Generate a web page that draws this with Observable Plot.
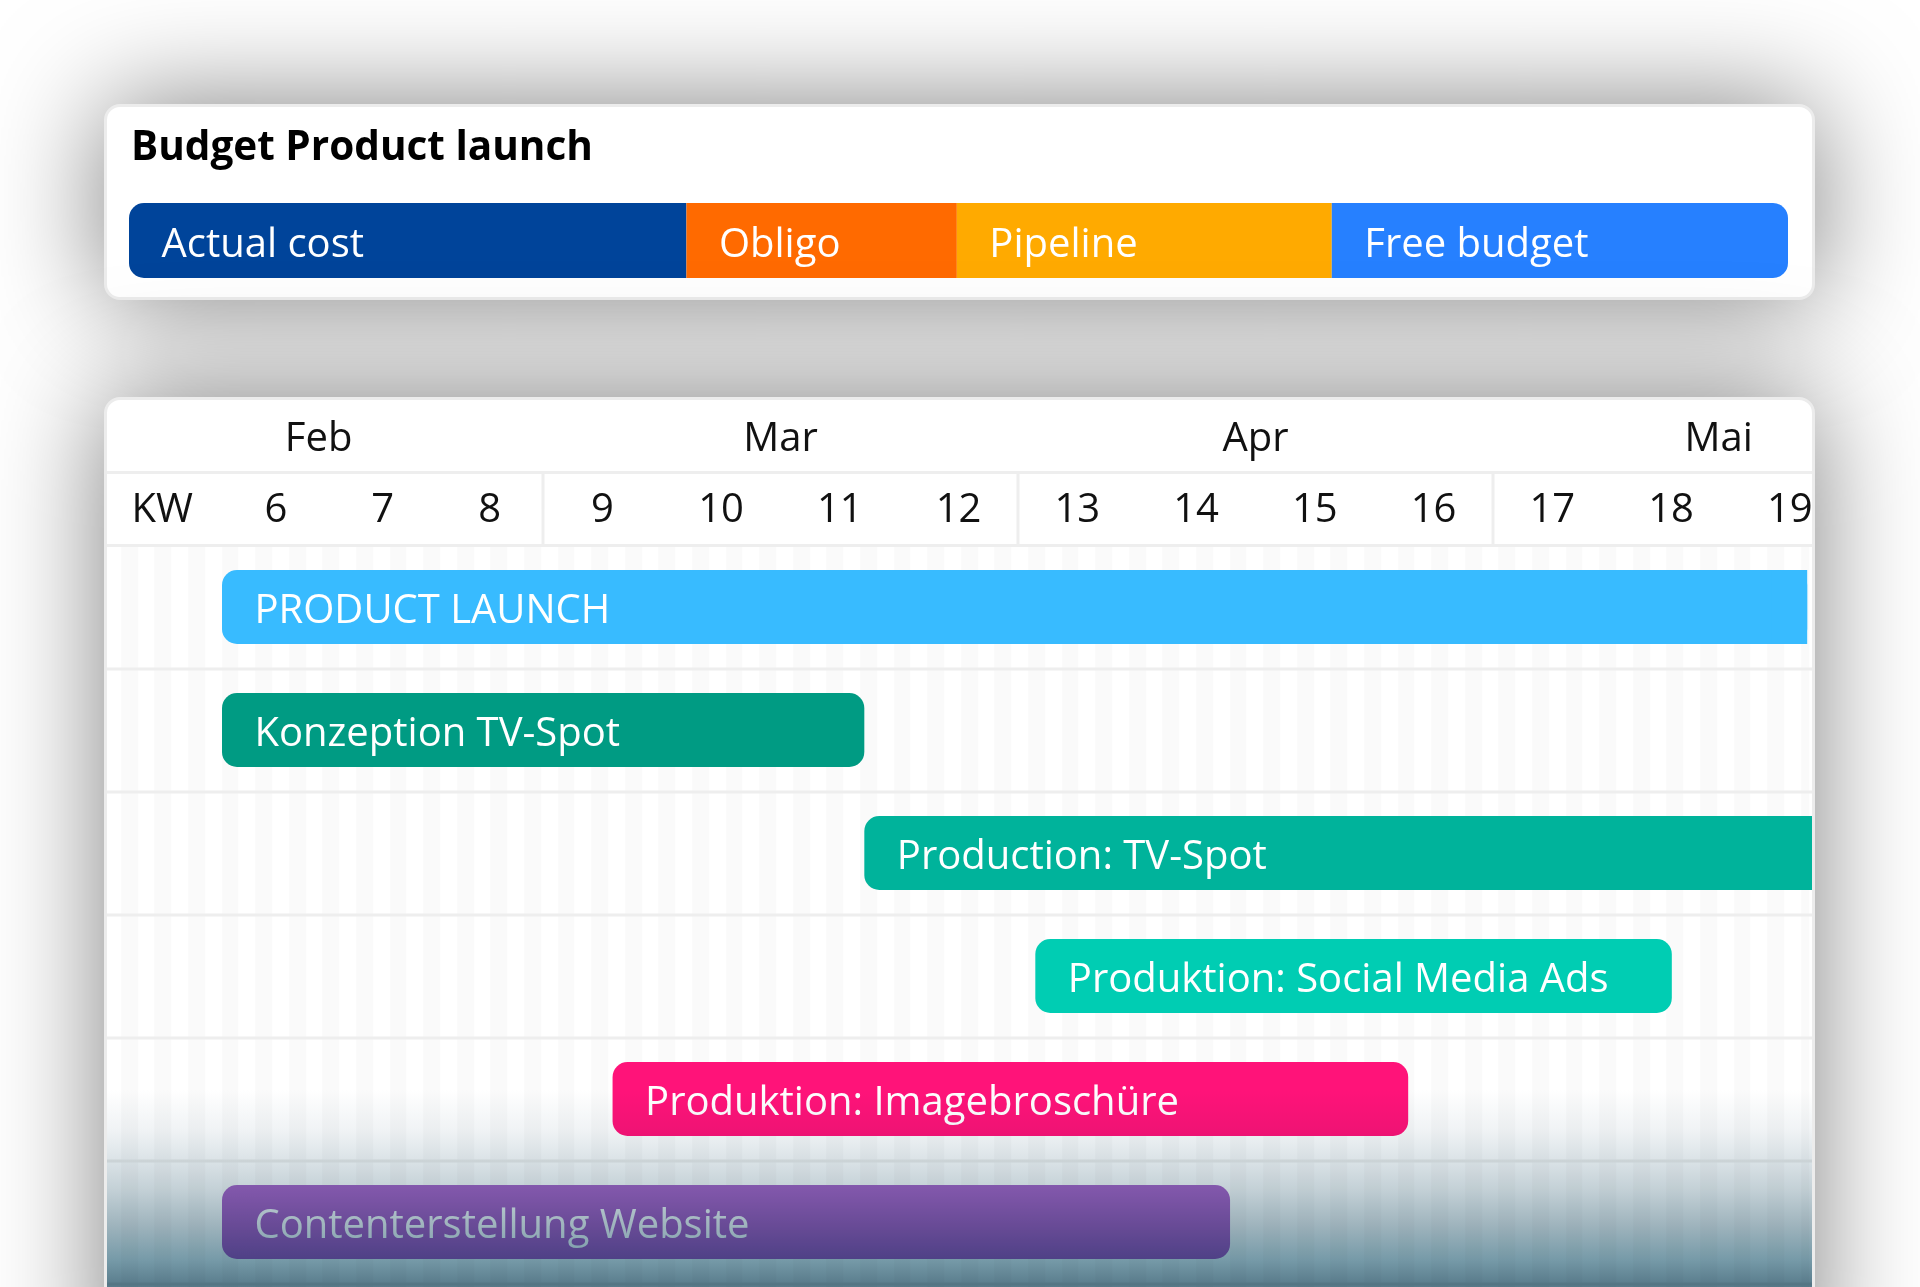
<!DOCTYPE html>
<html><head><meta charset="utf-8">
<script src="https://cdn.jsdelivr.net/npm/d3@7"></script>
<script src="https://cdn.jsdelivr.net/npm/@observablehq/plot@0.6"></script>
<style>
html,body{margin:0;padding:0;}
body{width:1920px;height:1287px;overflow:hidden;background:#fff;font-family:"Open Sans",sans-serif;position:relative;}
.card{position:absolute;box-sizing:border-box;background:#fff;border:3px solid #ececec;border-radius:16px;box-shadow:0 0 114px rgba(0,0,0,0.5);}
#budgetCard{left:104px;top:104px;width:1711px;height:196px;}
#title{position:absolute;left:24px;top:17px;font-size:40.5px;font-weight:700;line-height:42px;color:#000;white-space:nowrap;}
#budgetBar{position:absolute;left:22px;top:96px;width:1659px;height:75px;border-radius:15px;overflow:hidden;}
#ganttCard{left:104px;top:397px;width:1711px;height:1000px;overflow:hidden;}
.layer{position:absolute;left:0;}
#monthRow{top:0;height:71px;}
#weekRow{top:74px;height:70px;}
#body{top:145px;height:742px;width:1705px;
 background:repeating-linear-gradient(90deg,#ffffff 0px,#ffffff 16.8px,#fafafa 16.8px,#fafafa 33.6px);
 background-position:-2.8px 0;}
.hline{position:absolute;left:0;width:1705px;height:3px;background:#eeeeee;}
#overlay{position:absolute;left:0;top:690px;width:1705px;height:310px;mix-blend-mode:multiply;pointer-events:none;
 background:linear-gradient(to bottom,#ffffff 0px,#f0f3f5 40px,#dbe3e7 70px,#c3d0d6 100px,#9fb4bd 135px,#769aa8 170px,#577a8a 197px,#557888 310px);}
svg{display:block;}
</style>
</head><body>
<div class="card" id="budgetCard">
  <div id="title">Budget Product launch</div>
  <div id="budgetBar"></div>
</div>
<div class="card" id="ganttCard">
  <div class="layer" id="body"></div>
  <div class="layer" id="monthRow"></div>
  <div class="hline" style="top:71px"></div>
  <div class="layer" id="weekRow"></div>
  <div class="hline" style="top:144px"></div>
  <div id="overlay"></div>
</div>
<script>
// ---- Budget data ----
const budgetCategories = ["Actual cost", "Obligo", "Pipeline", "Free budget"];
const budgetValues = [33.6, 16.3, 22.6, 27.5];
const budgetColors = ["#00449A", "#FF6A00", "#FFAA00", "#2680FF"];

// ---- Calendar data (calendar weeks, KW) ----
const months = ["Feb", "Mar", "Apr", "Mai"];
const monthCenters = [6.4, 10.5, 14.5, 18.4];
const monthBoundaries = [8.5, 12.5, 16.5];
const weeks = [6, 7, 8, 9, 10, 11, 12, 13, 14, 15, 16, 17, 18, 19];

// ---- Tasks ----
const tasks = ["PRODUCT LAUNCH", "Konzeption TV-Spot", "Production: TV-Spot", "Produktion: Social Media Ads", "Produktion: Imagebroschüre", "Contenterstellung Website"];
const taskStart = [5.5, 5.5, 11.21, 12.65, 9.09, 5.5];
const taskEnd = [19.15, 11.21, 20.5, 18.01, 15.79, 14.29];
const taskColors = ["#38BBFF", "#009B83", "#00B39B", "#00CDB3", "#FF1379", "#A86ACB"];

const FONT = {fontFamily: "'Open Sans', sans-serif", fontSize: "40px", color: "#111", background: "transparent"};
const W = 1705;
const xScale = () => ({type: "linear", domain: [5.5, 8.5, 19.5], range: [115, 435.5, 1741.75], axis: null});

// Budget bar
const budget = budgetCategories.map((c, i) => ({category: c, value: budgetValues[i]}));
document.getElementById("budgetBar").append(Plot.plot({
  width: 1659, height: 75, margin: 0, style: FONT,
  x: {domain: [0, d3.sum(budgetValues)], range: [0, 1659], axis: null},
  color: {domain: budgetCategories, range: budgetColors},
  marks: [
    Plot.barX(budget, Plot.stackX({x: "value", fill: "category"})),
    Plot.text(budget, Plot.stackX1({x: "value", text: "category", textAnchor: "start", lineAnchor: "middle", dx: 32, dy: 3, fill: "white", fontSize: 40, frameAnchor: "middle"}))
  ]
}));

// Month row
document.getElementById("monthRow").append(Plot.plot({
  width: W, height: 71, margin: 0, style: FONT, x: xScale(),
  marks: [
    Plot.text(months, {x: (d, i) => monthCenters[i], text: d => d, frameAnchor: "top", lineAnchor: "middle", dy: 38, fill: "#111", fontSize: 40})
  ]
}));

// Week row
document.getElementById("weekRow").append(Plot.plot({
  width: W, height: 70, margin: 0, style: FONT, x: xScale(),
  marks: [
    Plot.ruleX(monthBoundaries, {x: d => d, stroke: "#eeeeee", strokeWidth: 3}),
    Plot.text(["KW"], {frameAnchor: "top-left", textAnchor: "start", lineAnchor: "middle", dx: 24, dy: 35, fill: "#111", fontSize: 40}),
    Plot.text(weeks, {x: d => d, text: d => String(d), frameAnchor: "top", lineAnchor: "middle", dy: 35, fill: "#111", fontSize: 40})
  ]
}));

// Gantt body
const taskData = tasks.map((t, i) => ({task: t, start: taskStart[i], end: taskEnd[i]}));
document.getElementById("body").append(Plot.plot({
  width: W, height: 742, margin: 0, style: FONT, x: xScale(),
  y: {type: "band", domain: tasks, range: [0, 738], paddingInner: 0.4, paddingOuter: 0.2, axis: null},
  color: {domain: tasks, range: taskColors},
  marks: [
    Plot.ruleY(taskData, {y: "task", dy: 61.5, stroke: "#eeeeee", strokeWidth: 3}),
    Plot.barX(taskData, {x1: "start", x2: "end", y: "task", fill: "task", rx: 15}),
    Plot.barX(taskData.filter(d => d.task === "PRODUCT LAUNCH"), {x1: d => d.end - 0.3, x2: "end", y: "task", fill: "task"}),
    Plot.text(taskData, {x: "start", y: "task", text: "task", textAnchor: "start", lineAnchor: "middle", dx: 32, dy: 3, fill: "white", fontSize: 40})
  ]
}));
</script>
</body></html>
